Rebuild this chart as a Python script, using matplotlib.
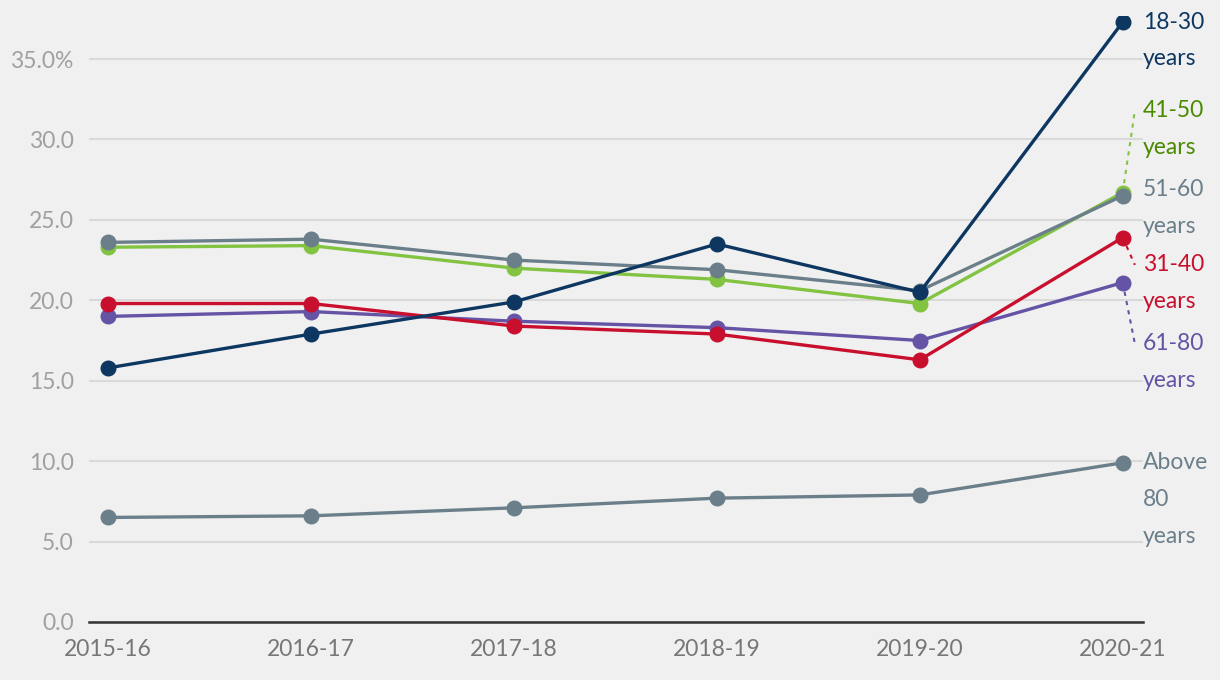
import matplotlib
matplotlib.use("Agg")
import matplotlib.pyplot as plt
from matplotlib.ticker import FuncFormatter

plt.rcParams['font.family'] = ['Lato', 'DejaVu Sans']

years = ["2015-16", "2016-17", "2017-18", "2018-19", "2019-20", "2020-21"]
above80 = [6.5, 6.6, 7.1, 7.7, 7.9, 9.9]
age61_80 = [19.0, 19.3, 18.7, 18.3, 17.5, 21.1]
age31_40 = [19.8, 19.8, 18.4, 17.9, 16.3, 23.9]
age41_50 = [23.3, 23.4, 22.0, 21.3, 19.8, 26.7]
age51_60 = [23.6, 23.8, 22.5, 21.9, 20.6, 26.5]
age18_30 = [15.8, 17.9, 19.9, 23.5, 20.5, 37.3]

series = [
    ("Above\n80\nyears", above80, "#6b7f8b", "#6b7f8b", 9.9),
    ("61-80\nyears", age61_80, "#6553a5", "#6553a5", 17.3),
    ("31-40\nyears", age31_40, "#c8102e", "#c8102e", 22.2),
    ("41-50\nyears", age41_50, "#82c341", "#4a8a00", 31.8),
    ("51-60\nyears", age51_60, "#6b7f8b", "#6b7f8b", 26.9),
    ("18-30\nyears", age18_30, "#0d3761", "#0d3761", 37.3),
]

bg = "#f0f0f0"
fig = plt.figure(figsize=(12.2, 6.8), dpi=100, facecolor=bg)
ax = fig.add_axes([89/1220, 58/680, (1143-89)/1220, (622-15.6)/680])
ax.set_facecolor(bg)

x = list(range(len(years)))
for i, (label, vals, col, tcol, ly) in enumerate(series):
    ax.plot(x, vals, color=col, lw=2.4, marker='o', ms=10.5, zorder=3 + i,
            solid_capstyle='round')
    last = vals[-1]
    if abs(ly - last) > 0.6:
        ax.plot([x[-1], x[-1] + 0.06], [last, ly], color=col, lw=1.5,
                ls=(0, (2, 2.5)), zorder=2)
    lines = label.split("\n")
    for j, t in enumerate(lines):
        ax.annotate(t, xy=(5.1, ly), xytext=(0, -26.6 * j), textcoords='offset points',
                    ha='left', va='center', color=tcol, fontsize=16.5,
                    annotation_clip=False)

ax.set_xlim(-0.095, 5.1)
ax.set_ylim(0, 37.7)
ax.set_xticks(x)
ax.set_xticklabels(years)
ax.set_yticks([0, 5, 10, 15, 20, 25, 30, 35])
ax.yaxis.set_major_formatter(FuncFormatter(lambda v, p: f"{v:.1f}%" if v == 35 else f"{v:.1f}"))
ax.grid(axis='y', color='#d9d9d9', lw=1.5, zorder=0)
ax.set_axisbelow(True)
for s in ['top', 'right', 'left']:
    ax.spines[s].set_visible(False)
ax.spines['bottom'].set_color('#333333')
ax.spines['bottom'].set_linewidth(1.8)
ax.tick_params(axis='both', length=0)
ax.tick_params(axis='y', pad=11, labelsize=16.5, labelcolor='#a0a0a0')
ax.tick_params(axis='x', pad=12, labelsize=16.5, labelcolor='#777777')

fig.savefig("out.png", dpi=100, facecolor=bg)
